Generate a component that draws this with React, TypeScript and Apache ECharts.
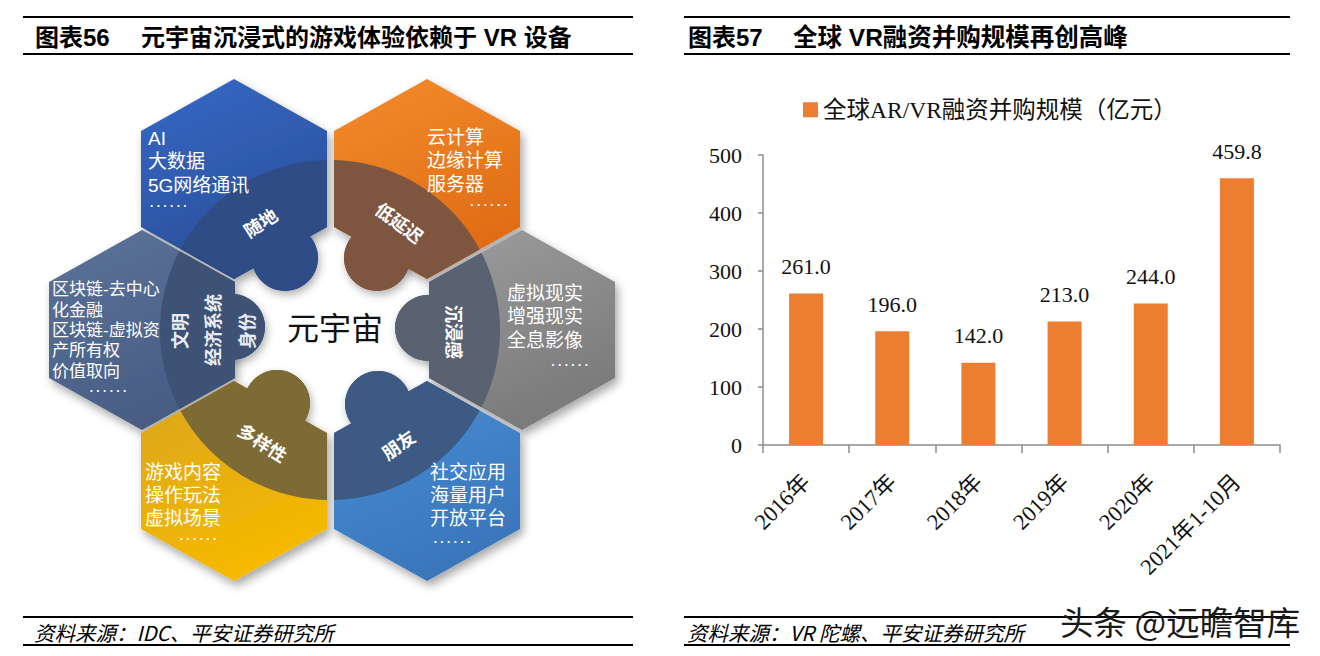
import React, { useEffect, useRef } from 'react';
import * as echarts from 'echarts';

// ---------- bar chart data ----------
const categories = ['2016年', '2017年', '2018年', '2019年', '2020年', '2021年1-10月'];
const values = [261.0, 196.0, 142.0, 213.0, 244.0, 459.8];
const seriesName = '全球AR/VR融资并购规模（亿元）';
const yMin = 0;
const yMax = 500;
const yInterval = 100;

// ---------- texts ----------
const leftTitleNo = '图表56';
const leftTitle = '元宇宙沉浸式的游戏体验依赖于 VR 设备';
const rightTitleNo = '图表57';
const rightTitle = '全球 VR融资并购规模再创高峰';
const leftSource = '资料来源：IDC、平安证券研究所';
const rightSource = '资料来源：VR 陀螺、平安证券研究所';
const watermark = '头条 @远瞻智库';
const centerLabel = '元宇宙';
const dotsText = '. . . . . .';

// ---------- infographic content ----------
const hexBlueLines = ['AI', '大数据', '5G网络通讯'];
const hexOrangeLines = ['云计算', '边缘计算', '服务器'];
const hexSlateLines = ['区块链-去中心', '化金融', '区块链-虚拟资', '产所有权', '价值取向'];
const hexGrayLines = ['虚拟现实', '增强现实', '全息影像'];
const hexYellowLines = ['游戏内容', '操作玩法', '虚拟场景'];
const hexLightBlueLines = ['社交应用', '海量用户', '开放平台'];
const ringLabels = ['随地', '低延迟', '多样性', '朋友', '沉浸感', '文明', '经济系统', '身份'];

const SANS = "'Liberation Sans', 'Noto Sans CJK SC', sans-serif";
const CJK = "'Noto Sans CJK SC', 'Liberation Sans', sans-serif";
const SERIF = "'Liberation Serif', 'Noto Sans CJK SC', serif";

type P = [number, number];

function hexPoints(cx: number, cy: number): P[] {
  const w = 93, R = 100, s = 48;
  return [
    [cx, cy - R], [cx + w, cy - s], [cx + w, cy + s],
    [cx, cy + R], [cx - w, cy + s], [cx - w, cy - s],
  ];
}

function clipPoly(subject: P[], clip: P[]): P[] {
  let area = 0;
  for (let i = 0; i < clip.length; i++) {
    const a = clip[i], b = clip[(i + 1) % clip.length];
    area += a[0] * b[1] - b[0] * a[1];
  }
  const sg = area > 0 ? 1 : -1;
  let out = subject;
  for (let i = 0; i < clip.length; i++) {
    const A = clip[i], B = clip[(i + 1) % clip.length];
    const inside = (p: P) => ((B[0] - A[0]) * (p[1] - A[1]) - (B[1] - A[1]) * (p[0] - A[0])) * sg >= 0;
    const inter = (p: P, q: P): P => {
      const x1 = p[0], y1 = p[1], x2 = q[0], y2 = q[1];
      const x3 = A[0], y3 = A[1], x4 = B[0], y4 = B[1];
      const d = (x1 - x2) * (y3 - y4) - (y1 - y2) * (x3 - x4);
      const t = ((x1 - x3) * (y3 - y4) - (y1 - y3) * (x3 - x4)) / d;
      return [x1 + t * (x2 - x1), y1 + t * (y2 - y1)];
    };
    const input = out;
    out = [];
    for (let j = 0; j < input.length; j++) {
      const cur = input[j], prev = input[(j + input.length - 1) % input.length];
      if (inside(cur)) {
        if (!inside(prev)) out.push(inter(prev, cur));
        out.push(cur);
      } else if (inside(prev)) {
        out.push(inter(prev, cur));
      }
    }
    if (!out.length) break;
  }
  return out;
}

const RING_C: P = [330, 330];
const RING_R = 170;
const circlePts: P[] = [];
for (let i = 0; i < 240; i++) {
  const a = (i / 240) * Math.PI * 2;
  circlePts.push([RING_C[0] + RING_R * Math.cos(a), RING_C[1] + RING_R * Math.sin(a)]);
}

const HEXES = [
  { c: [234, 179], light: ['#3669c7', '#2a4f98'], dark: '#2f4c86', bump: [285, 258],
    lines: hexBlueLines, tx: 148, ty: 138, dy: 23.5, fs: 19, dots: [150, 207, 'left'] },
  { c: [427, 179], light: ['#f38c2c', '#e06c16'], dark: '#7e5640', bump: [377, 258],
    lines: hexOrangeLines, tx: 427, ty: 137, dy: 23.5, fs: 19, dots: [507, 206, 'right'] },
  { c: [142, 330], light: ['#5c7399', '#485d84'], dark: '#3e5276', bump: [232, 327],
    lines: hexSlateLines, tx: 52, ty: 290, dy: 20.3, fs: 17, dots: [108, 392, 'center'] },
  { c: [522, 330], light: ['#9d9d9d', '#7b7b7b'], dark: '#5a6272', bump: [428, 328],
    lines: hexGrayLines, tx: 507, ty: 293, dy: 23.5, fs: 19, dots: [588, 366, 'right'] },
  { c: [234, 481], light: ['#d9a41e', '#f5b900'], dark: '#7d6a34', bump: [277, 403],
    lines: hexYellowLines, tx: 145, ty: 472, dy: 23, fs: 19, dots: [198, 540, 'center'] },
  { c: [427, 481], light: ['#4b8fd7', '#3a76bb'], dark: '#3c5a84', bump: [378, 404],
    lines: hexLightBlueLines, tx: 430, ty: 472, dy: 23, fs: 19, dots: [452, 543, 'center'] },
];

const LABEL_POS: [number, number, number, number][] = [
  [260, 222, 33, 18], [400, 222, -37, 18], [263, 442, -33, 18], [398, 444, 35, 18],
  [455, 332, -90, 18], [179, 331, 90, 18], [212, 330, 90, 18], [246, 331, 90, 18],
];

function txt(text: string, x: number, y: number, font: string, fill: string, align = 'left', rot = 0, extra: any = {}) {
  return {
    type: 'text', x, y, rotation: (rot * Math.PI) / 180, silent: true,
    style: {
      text, fill, font, textAlign: align, align, textVerticalAlign: 'middle', verticalAlign: 'middle', ...extra,
    },
  };
}

function rule(x1: number, x2: number, y: number) {
  return { type: 'line', silent: true, shape: { x1, y1: y, x2, y2: y }, style: { stroke: '#000', lineWidth: 2 } };
}

function buildGraphic() {
  const els: any[] = [];
  // rules and titles
  els.push(rule(23, 633, 17), rule(23, 633, 54), rule(23, 633, 617), rule(23, 633, 645));
  els.push(rule(684, 1290, 17), rule(684, 1290, 54), rule(684, 1290, 617), rule(684, 1290, 645));
  els.push(txt(leftTitleNo, 35, 37, `bold 24px ${SANS}`, '#000'));
  els.push(txt(leftTitle, 141, 37, `bold 24px ${SANS}`, '#000'));
  els.push(txt(rightTitleNo, 688, 37, `bold 24px ${SANS}`, '#000'));
  els.push(txt(rightTitle, 793, 37, `bold 24.5px ${SANS}`, '#000'));
  els.push(txt(leftSource, 34, 632, `italic 20.5px ${CJK}`, '#000'));
  els.push(txt(rightSource, 687, 632, `italic 20.5px ${CJK}`, '#000'));

  // hexagons
  HEXES.forEach((h) => {
    const pts = hexPoints(h.c[0], h.c[1]);
    els.push({
      type: 'polygon', silent: true, shape: { points: pts },
      style: {
        fill: new echarts.graphic.LinearGradient(0, 0, 0.4, 1, [
          { offset: 0, color: h.light[0] }, { offset: 1, color: h.light[1] },
        ]),
        shadowBlur: 10, shadowColor: 'rgba(0,0,0,0.35)', shadowOffsetX: 3, shadowOffsetY: 5,
      },
    });
    els.push({
      type: 'circle', silent: true, shape: { cx: h.bump[0], cy: h.bump[1], r: 33 },
      style: { fill: h.dark, shadowBlur: 8, shadowColor: 'rgba(0,0,0,0.3)', shadowOffsetX: 2, shadowOffsetY: 4 },
    });
    const dark = clipPoly(circlePts, pts);
    els.push({ type: 'polygon', silent: true, shape: { points: dark }, style: { fill: h.dark } });
    els.push({ type: 'circle', silent: true, shape: { cx: h.bump[0], cy: h.bump[1], r: 33 }, style: { fill: h.dark } });
  });

  // list texts (one multi-line text per hexagon)
  HEXES.forEach((h) => {
    els.push({
      type: 'text', x: h.tx, y: h.ty - h.dy / 2, silent: true,
      style: {
        text: h.lines.join('\n'), fill: '#ffffff', font: `${h.fs}px ${SANS}`, lineHeight: h.dy,
        textAlign: 'left', align: 'left', textVerticalAlign: 'top', verticalAlign: 'top',
      },
    });
    els.push(txt(dotsText, h.dots[0] as number, (h.dots[1] as number) - 4, `bold 12px ${SANS}`, '#ffffff', h.dots[2] as string));
  });

  // ring labels
  ringLabels.forEach((l, i) => {
    const p = LABEL_POS[i];
    els.push(txt(l, p[0], p[1], `bold ${p[3]}px ${CJK}`, i >= 5 ? '#e8ecf2' : '#ffffff', 'center', p[2]));
  });

  els.push(txt(centerLabel, 335, 326, `32px ${CJK}`, '#111111', 'center'));

  // watermark
  els.push(txt(watermark, 1060, 620, `33.5px ${CJK}`, '#1a1a1a', 'left', 0));
  return els;
}

export default function App() {
  const ref = useRef<HTMLDivElement>(null);
  useEffect(() => {
    if (!ref.current) return;
    const chart = echarts.init(ref.current, null, { renderer: 'svg' });
    chart.setOption({
      animation: false,
      backgroundColor: '#ffffff',
      legend: {
        data: [seriesName],
        left: 798,
        top: 93,
        icon: 'rect',
        itemWidth: 15,
        itemHeight: 15,
        itemGap: 6,
        textStyle: { fontFamily: SERIF, fontSize: 23.5, color: '#111' },
      },
      grid: { left: 763, right: 40, top: 155, bottom: 211, containLabel: false },
      xAxis: {
        type: 'category',
        data: categories,
        axisLine: { lineStyle: { color: '#8c8c8c', width: 1.5 } },
        axisTick: { show: true, length: 8, lineStyle: { color: '#8c8c8c', width: 1.5 } },
        axisLabel: { rotate: 45, margin: 33, fontFamily: SERIF, fontSize: 22.5, color: '#111', interval: 0 },
      },
      yAxis: {
        type: 'value',
        min: yMin,
        max: yMax,
        interval: yInterval,
        axisLine: { show: true, lineStyle: { color: '#8c8c8c', width: 1.5 } },
        axisTick: { show: true, length: 5, lineStyle: { color: '#8c8c8c', width: 1.5 } },
        splitLine: { show: false },
        axisLabel: { margin: 21, fontFamily: SERIF, fontSize: 22, color: '#111' },
      },
      series: [
        {
          name: seriesName,
          type: 'bar',
          data: values,
          barWidth: 34,
          itemStyle: { color: '#ed7d31' },
          label: {
            show: true,
            position: 'top',
            distance: 16,
            fontFamily: SERIF,
            fontSize: 22,
            color: '#111',
            formatter: (p: any) => Number(p.value).toFixed(1),
          },
        },
      ],
      graphic: { elements: buildGraphic() },
    });
    return () => chart.dispose();
  }, []);
  return (
    <div
      ref={ref}
      style={{ position: 'fixed', left: 0, top: 0, width: 1320, height: 656, background: '#fff' }}
    />
  );
}
